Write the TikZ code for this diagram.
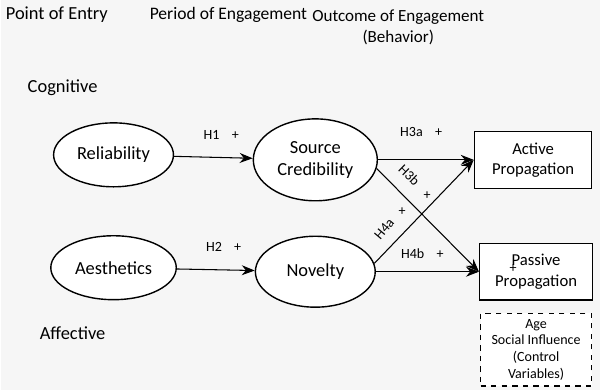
\documentclass[tikz,border=0pt]{standalone}
\usepackage{fontspec}
\setmainfont{Carlito}
\usetikzlibrary{arrows.meta,shapes.geometric}
\definecolor{bggray}{RGB}{246,246,246}

\begin{document}
\begin{tikzpicture}[x=0.02cm,y=-0.02cm]
            \tikzstyle{construct} = [ellipse, draw=black, line width=0.8pt, fill=white, minimum width=2.4cm, minimum height=1.28cm, align=center, font=\fontsize{10.5}{12.5}\selectfont]
            \tikzstyle{outcome} = [rectangle, draw=black, line width=0.8pt, fill=white, minimum width=2.35cm, minimum height=1.14cm, align=center, font=\fontsize{9.5}{11.5}\selectfont]
            \tikzstyle{heading} = [align=center, font=\fontsize{10.5}{12.5}\selectfont]
            \tikzstyle{hyp} = [font=\fontsize{8}{9}\selectfont, inner sep=1pt]
            \tikzstyle{arrow} = [line width=0.6pt, -{Stealth[length=2.6mm, width=2mm]}]

            % Background
            \fill [bggray] (0,0) rectangle (600,390);

            % Headings
            \node (entry) [heading, anchor=west] at (-1,15) {Point of Entry};
            \node (period) [heading, font=\fontsize{10}{12}\selectfont] at (228,15) {Period of Engagement};
            \node (outcomehead) [heading, font=\fontsize{9.7}{12}\selectfont] at (398,27) {Outcome of Engagement\\(Behavior)};
            \node (cognitive) [heading] at (62,88) {Cognitive};
            \node (affective) [heading] at (72,334) {Affective};

            % Nodes
            \node (reliab) [construct] at (113,155) {Reliability};
            \node (aesth) [construct] at (113,268) {Aesthetics};
            \node (credib) [construct, minimum height=1.64cm] at (315,160) {Source\\Credibility};
            \node (novelty) [construct, minimum height=1.42cm] at (315,272) {Novelty};
            \node (active) [outcome] at (533,160) {Active\\Propagation};
            \node (passive) [outcome, minimum width=2.26cm] at (536,272) {Passive\\Propagation};
            \node (passplus) [hyp] at (513,269) {+};
            \node (control) [outcome, dashed, line width=0.6pt, minimum width=2.22cm, minimum height=1.3cm, font=\fontsize{8}{9.5}\selectfont] at (536,350) {Age\\Social Influence\\(Control\\Variables)};

            % Diagonal labels
            \node (h3b) [hyp, rotate=-44] at (409,175) {H3b};
            \node (h3bplus) [hyp] at (427,196) {+};
            \node (h4a) [hyp, rotate=50] at (384,229) {H4a};
            \node (h4aplus) [hyp] at (402,212) {+};

            % Arrows
            \draw [arrow] (reliab) -- node[hyp, above=9pt, pos=0.6] {H1\hspace{7pt}+} (credib);
            \draw [arrow] (aesth) -- node[hyp, above=9pt, pos=0.6] {H2\hspace{7pt}+} (novelty);
            \draw [arrow] (credib.east) -- node[hyp, above=12pt, pos=0.45] {H3a\hspace{7pt}+} (active.west);
            \draw [arrow] (credib.-8) -- (passive.west);
            \draw [arrow] (novelty.east) -- node[hyp, above=6pt, pos=0.45] {H4b\hspace{7pt}+} (passive.west);
            \draw [arrow] (novelty.8) -- (active.west);
        \end{tikzpicture}
\end{document}
